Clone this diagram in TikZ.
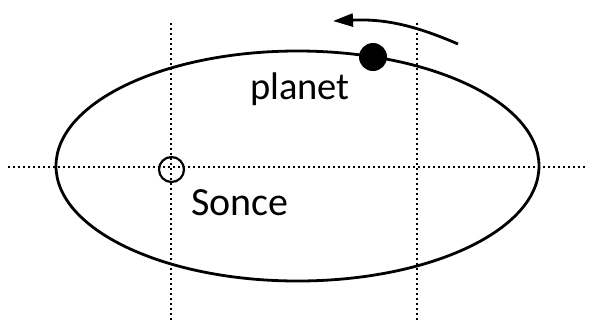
\documentclass[tikz,border=0pt]{standalone}
\usepackage{fontspec}
\setmainfont{Carlito}
\usetikzlibrary{arrows.meta, positioning}

\begin{document}
\begin{tikzpicture}[x=1pt, y=-1pt,
    guide/.style={line width=1.8pt, dash pattern=on 1.8pt off 3.2pt},
    orbit/.style={line width=2.8pt},
    body/.style={circle, inner sep=0pt, line width=2.2pt}]
  \useasboundingbox[fill=white] (0,0) rectangle (595,325);

  % === dotted axes ===
  \draw[guide] (8,167) -- (587,167);
  \foreach \x in {171,417} {
    \draw[guide] (\x,23) -- (\x,320);
  }

  % === orbit ===
  \draw[orbit] (297.5,166) ellipse [x radius=241.5, y radius=115];

  % Sun and planet
  \node[body, draw, minimum size=25pt] (sonce) at (171.5,169.5) {};
  \node[body, fill=black, minimum size=28pt] (planet) at (373,57) {};

  % Labels
  \node[font=\fontsize{38.5}{38.5}\selectfont, anchor=base] (planetlbl) at (300,99) {planet};
  \node[font=\fontsize{40}{40}\selectfont, anchor=base] (soncelbl) at (240,215) {Sonce};

  % Direction of motion
  \coordinate (mstart) at (458,44);
  \coordinate (mend) at (333,21);
  \draw[orbit, -{Triangle[length=20pt, width=13pt]}] (mstart) to[bend right=13] (mend);
\end{tikzpicture}
\end{document}
